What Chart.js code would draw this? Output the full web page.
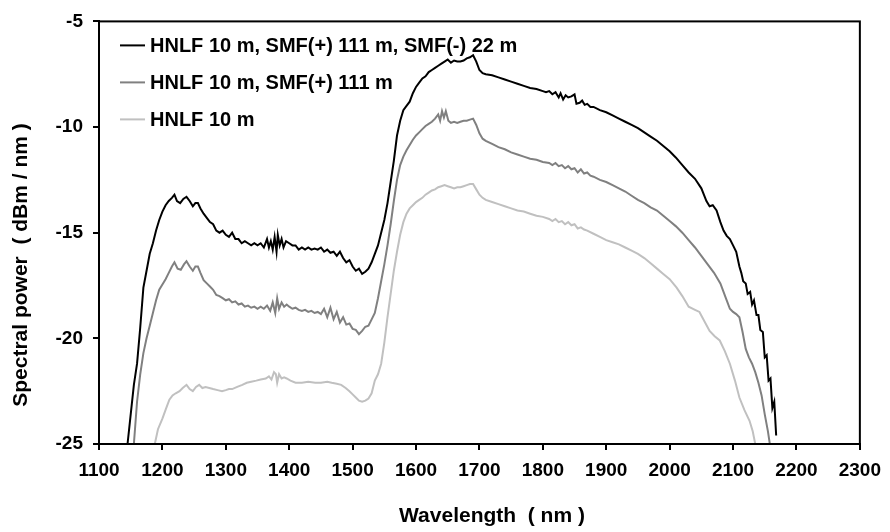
<!DOCTYPE html>
<html>
<head>
<meta charset="utf-8">
<script src="https://cdn.jsdelivr.net/npm/chart.js@4/dist/chart.umd.min.js"></script>
<style>
  html, body { margin: 0; padding: 0; background: #ffffff; }
  #wrap { width: 890px; height: 532px; position: relative; }
</style>
</head>
<body>
<div id="wrap"><canvas id="c" width="890" height="532"></canvas></div>
<script>
// ---- Data ----
const seriesLabels = [
  "HNLF 10 m, SMF(+) 111 m, SMF(-) 22 m",
  "HNLF 10 m, SMF(+) 111 m",
  "HNLF 10 m"
];
const xTicks = [1100,1200,1300,1400,1500,1600,1700,1800,1900,2000,2100,2200,2300];
const yTicks = [-25,-20,-15,-10,-5];

// Series A: HNLF 10 m, SMF(+) 111 m, SMF(-) 22 m
const wlA = [1145,1150,1155,1160,1165,1170,1175,1180,1185,1190,1195,1200,1205,1210,1215,1219,1223,1228,1233,1238,1243,1248,1252,1256,1260,1265,1270,1275,1280,1285,1290,1295,1300,1305,1310,1315,1320,1325,1330,1335,1340,1345,1350,1355,1360,1365,1368,1371,1374,1377,1380,1382,1385,1388,1391,1395,1400,1405,1410,1415,1420,1425,1430,1435,1440,1445,1450,1455,1460,1465,1470,1475,1480,1485,1490,1495,1500,1505,1510,1515,1520,1525,1530,1535,1540,1545,1550,1555,1560,1565,1570,1575,1580,1585,1590,1595,1600,1605,1610,1615,1620,1625,1630,1635,1640,1645,1650,1655,1660,1665,1670,1675,1680,1685,1690,1695,1700,1705,1710,1720,1730,1740,1750,1760,1770,1780,1790,1800,1805,1810,1815,1820,1825,1828,1832,1836,1840,1845,1850,1853,1858,1862,1866,1870,1875,1880,1890,1900,1910,1920,1930,1940,1950,1960,1970,1980,1990,2000,2010,2020,2030,2040,2050,2058,2063,2068,2074,2080,2085,2090,2095,2100,2105,2110,2113,2116,2120,2123,2127,2130,2133,2137,2140,2143,2147,2150,2153,2156,2159,2162,2165,2168];
const pA  = [-25,-23.6,-22.2,-21.2,-19.5,-17.6,-16.8,-16.0,-15.5,-14.9,-14.4,-14.0,-13.7,-13.5,-13.35,-13.2,-13.5,-13.6,-13.4,-13.3,-13.5,-13.75,-13.6,-13.6,-13.85,-14.1,-14.3,-14.5,-14.6,-14.9,-15.0,-14.9,-15.1,-15.2,-15.0,-15.3,-15.3,-15.5,-15.4,-15.5,-15.6,-15.5,-15.6,-15.5,-15.7,-15.3,-15.7,-15.4,-15.8,-15.2,-15.9,-15.1,-15.6,-15.3,-15.7,-15.4,-15.5,-15.6,-15.6,-15.8,-15.7,-15.8,-15.7,-15.8,-15.75,-15.8,-15.7,-15.9,-15.8,-15.95,-15.9,-16.1,-15.9,-16.2,-16.4,-16.3,-16.6,-16.8,-16.7,-16.95,-16.85,-16.7,-16.4,-16.0,-15.6,-15.0,-14.4,-13.6,-12.6,-11.6,-10.4,-9.7,-9.2,-9.0,-8.8,-8.4,-8.1,-7.9,-7.7,-7.6,-7.4,-7.3,-7.2,-7.1,-7.0,-6.9,-6.8,-6.95,-6.85,-6.9,-6.9,-6.85,-6.75,-6.7,-6.6,-6.9,-7.3,-7.45,-7.5,-7.55,-7.65,-7.75,-7.85,-7.95,-8.05,-8.15,-8.2,-8.3,-8.35,-8.3,-8.45,-8.35,-8.6,-8.4,-8.7,-8.5,-8.6,-8.55,-8.45,-8.9,-8.85,-8.75,-8.95,-8.9,-9.05,-9.05,-9.2,-9.3,-9.45,-9.6,-9.75,-9.9,-10.05,-10.25,-10.45,-10.65,-10.9,-11.15,-11.45,-11.8,-12.15,-12.45,-12.9,-13.5,-13.75,-13.7,-13.95,-14.5,-14.9,-15.15,-15.3,-15.6,-15.9,-16.6,-16.9,-17.3,-17.4,-17.9,-17.8,-18.4,-18.2,-18.9,-18.9,-19.6,-19.7,-20.9,-20.8,-22.0,-21.9,-23.3,-23.0,-24.6,-25.2];

// Series B: HNLF 10 m, SMF(+) 111 m
const wlB = [1155,1160,1165,1170,1175,1180,1185,1190,1195,1200,1205,1210,1215,1219,1224,1229,1234,1238,1243,1248,1252,1256,1260,1265,1270,1275,1280,1285,1290,1295,1300,1305,1310,1315,1320,1325,1330,1335,1340,1345,1350,1355,1360,1365,1370,1374,1378,1381,1384,1388,1392,1396,1400,1405,1410,1415,1420,1425,1430,1435,1440,1445,1450,1455,1460,1465,1470,1475,1480,1485,1490,1495,1500,1505,1510,1515,1520,1525,1530,1535,1540,1545,1550,1555,1560,1565,1570,1575,1580,1585,1590,1595,1600,1605,1610,1615,1620,1625,1630,1635,1638,1641,1644,1647,1651,1655,1660,1665,1670,1675,1680,1685,1690,1695,1700,1705,1710,1720,1730,1740,1750,1760,1770,1780,1790,1800,1810,1815,1820,1825,1830,1835,1840,1845,1850,1855,1860,1865,1870,1875,1880,1890,1900,1910,1920,1930,1940,1950,1960,1970,1980,1990,2000,2010,2020,2030,2040,2050,2060,2070,2080,2090,2095,2100,2105,2110,2115,2120,2125,2130,2135,2140,2145,2150,2155,2158];
const pB  = [-25,-23.0,-21.7,-20.7,-20.0,-19.4,-18.8,-18.2,-17.7,-17.45,-17.2,-16.9,-16.6,-16.4,-16.7,-16.75,-16.5,-16.35,-16.6,-16.8,-16.6,-16.6,-16.9,-17.25,-17.4,-17.55,-17.7,-17.95,-18.0,-18.1,-18.2,-18.15,-18.3,-18.25,-18.4,-18.35,-18.5,-18.45,-18.55,-18.5,-18.6,-18.5,-18.6,-18.45,-18.7,-18.3,-18.8,-18.1,-18.6,-18.3,-18.5,-18.4,-18.5,-18.6,-18.55,-18.65,-18.7,-18.65,-18.75,-18.7,-18.8,-18.75,-18.85,-18.6,-19.0,-18.55,-19.1,-18.75,-19.25,-19.0,-19.35,-19.3,-19.55,-19.6,-19.8,-19.65,-19.45,-19.4,-19.1,-18.8,-18.1,-17.3,-16.5,-15.6,-14.6,-13.5,-12.5,-11.8,-11.4,-11.1,-10.85,-10.6,-10.4,-10.25,-10.1,-9.95,-9.85,-9.75,-9.6,-9.4,-9.7,-9.25,-9.55,-9.25,-9.7,-9.8,-9.75,-9.8,-9.75,-9.7,-9.7,-9.65,-9.6,-9.9,-10.3,-10.55,-10.65,-10.8,-10.95,-11.05,-11.2,-11.3,-11.4,-11.5,-11.55,-11.65,-11.7,-11.8,-11.7,-11.85,-11.8,-11.95,-11.85,-12.0,-11.95,-12.15,-12.0,-12.2,-12.15,-12.3,-12.35,-12.5,-12.6,-12.75,-12.9,-13.05,-13.25,-13.45,-13.6,-13.8,-13.95,-14.2,-14.45,-14.7,-15.0,-15.35,-15.7,-16.1,-16.5,-16.9,-17.4,-18.2,-18.6,-18.75,-18.85,-19.0,-19.7,-20.5,-20.9,-21.2,-21.6,-22.1,-22.7,-23.6,-24.4,-25];

// Series C: HNLF 10 m
const wlC = [1188,1193,1200,1206,1211,1216,1221,1227,1232,1238,1243,1248,1253,1258,1263,1268,1274,1280,1287,1294,1300,1305,1310,1318,1326,1333,1340,1348,1355,1363,1368,1372,1376,1379,1381,1384,1388,1392,1396,1402,1410,1420,1430,1441,1450,1460,1467,1475,1482,1489,1495,1500,1505,1510,1515,1520,1525,1530,1535,1540,1545,1550,1555,1560,1565,1570,1575,1580,1585,1590,1595,1600,1605,1610,1615,1620,1625,1630,1635,1640,1645,1650,1655,1660,1665,1670,1675,1680,1685,1690,1695,1700,1705,1710,1720,1730,1740,1750,1760,1770,1780,1790,1800,1810,1815,1820,1825,1830,1835,1840,1845,1850,1855,1860,1865,1870,1880,1890,1900,1910,1920,1930,1940,1950,1960,1970,1980,1990,2000,2011,2020,2030,2040,2047,2055,2063,2071,2079,2087,2095,2103,2110,2118,2126,2131,2135];
const pC  = [-25,-24.3,-23.8,-23.3,-22.9,-22.7,-22.6,-22.5,-22.35,-22.2,-22.4,-22.5,-22.3,-22.2,-22.35,-22.3,-22.35,-22.4,-22.45,-22.5,-22.45,-22.4,-22.4,-22.3,-22.2,-22.1,-22.05,-22.0,-21.95,-21.9,-21.8,-21.95,-21.6,-21.7,-22.1,-21.7,-21.9,-21.85,-21.9,-22.0,-22.1,-22.1,-22.05,-22.1,-22.1,-22.05,-22.1,-22.15,-22.2,-22.35,-22.5,-22.65,-22.8,-22.95,-23.0,-22.95,-22.85,-22.6,-22.0,-21.7,-21.2,-20.2,-19.0,-17.9,-16.8,-15.9,-15.1,-14.5,-14.1,-13.85,-13.7,-13.55,-13.45,-13.35,-13.2,-13.1,-13.0,-12.95,-12.85,-12.8,-12.75,-12.8,-12.85,-12.9,-12.85,-12.85,-12.8,-12.75,-12.7,-12.7,-12.95,-13.2,-13.35,-13.45,-13.55,-13.65,-13.75,-13.85,-13.95,-14.0,-14.1,-14.2,-14.25,-14.35,-14.45,-14.35,-14.5,-14.45,-14.6,-14.5,-14.65,-14.6,-14.8,-14.75,-14.85,-14.9,-15.05,-15.2,-15.35,-15.45,-15.55,-15.7,-15.85,-16.0,-16.2,-16.45,-16.7,-16.95,-17.2,-17.6,-18.0,-18.5,-18.65,-18.75,-19.2,-19.65,-19.9,-20.1,-20.6,-21.2,-22.0,-22.8,-23.4,-23.9,-24.4,-25];

const seriesColors = ["#000000", "#808080", "#c0c0c0"];

// ---- Build chart ----
function toPts(xs, ys) { return xs.map((x, i) => ({ x: x, y: ys[i] })); }

const FONT = '"Liberation Sans", Arial, sans-serif';

const framePlugin = {
  id: 'frame',
  afterDatasetsDraw(chart) {
    const { ctx, chartArea: a } = chart;
    ctx.save();
    ctx.strokeStyle = '#000';
    ctx.lineWidth = 2;
    ctx.strokeRect(a.left, a.top, a.right - a.left, a.bottom - a.top);
    ctx.restore();
  },
  afterDraw(chart) {
    const { ctx, chartArea: a } = chart;
    ctx.save();
    // legend inside plot
    ctx.font = 'bold 20px ' + FONT;
    ctx.textBaseline = 'middle';
    ctx.textAlign = 'left';
    chart.data.datasets.forEach((ds, i) => {
      const y = a.top + 24 + i * 37;
      ctx.strokeStyle = ds.borderColor;
      ctx.lineWidth = 2;
      ctx.beginPath();
      ctx.moveTo(a.left + 21, y);
      ctx.lineTo(a.left + 46, y);
      ctx.stroke();
      ctx.fillStyle = '#000';
      ctx.fillText(ds.label, a.left + 51, y + 1);
    });
    // axis titles
    ctx.fillStyle = '#000';
    ctx.font = 'bold 21px ' + FONT;
    ctx.textAlign = 'center';
    ctx.textBaseline = 'middle';
    ctx.fillText('Wavelength  ( nm )', 492, 516);
    ctx.translate(21, 265);
    ctx.rotate(-Math.PI / 2);
    ctx.fillText('Spectral power  ( dBm / nm )', 0, 0);
    ctx.restore();
  }
};

new Chart(document.getElementById('c'), {
  type: 'line',
  data: {
    datasets: [
      { label: seriesLabels[0], data: toPts(wlA, pA), borderColor: seriesColors[0] },
      { label: seriesLabels[1], data: toPts(wlB, pB), borderColor: seriesColors[1] },
      { label: seriesLabels[2], data: toPts(wlC, pC), borderColor: seriesColors[2] }
    ].map(d => Object.assign(d, { borderWidth: 2, pointRadius: 0, tension: 0, fill: false }))
  },
  options: {
    responsive: false,
    animation: false,
    devicePixelRatio: 1,
    layout: { padding: { top: 17, right: 26, left: 0, bottom: 0 } },
    plugins: { legend: { display: false }, tooltip: { enabled: false } },
    scales: {
      x: {
        type: 'linear', min: xTicks[0], max: xTicks[xTicks.length - 1],
        afterBuildTicks: s => { s.ticks = xTicks.map(v => ({ value: v })); },
        afterFit: s => { s.height = 88; },
        ticks: { color: '#000', font: { family: FONT, size: 19, weight: 'bold' }, padding: 9, maxRotation: 0, autoSkip: false,
                 callback: v => String(v) },
        grid: { drawOnChartArea: false, drawTicks: true, tickLength: 6, color: '#000', lineWidth: 2 },
        border: { color: '#000', width: 2 }
      },
      y: {
        type: 'linear', min: yTicks[0], max: yTicks[yTicks.length - 1],
        afterBuildTicks: s => { s.ticks = yTicks.map(v => ({ value: v })); },
        afterFit: s => { s.width = 99; },
        ticks: { color: '#000', font: { family: FONT, size: 19, weight: 'bold' }, padding: 10,
                 callback: v => String(v) },
        grid: { drawOnChartArea: false, drawTicks: true, tickLength: 6, color: '#000', lineWidth: 2 },
        border: { color: '#000', width: 2 }
      }
    }
  },
  plugins: [framePlugin]
});
</script>
</body>
</html>
